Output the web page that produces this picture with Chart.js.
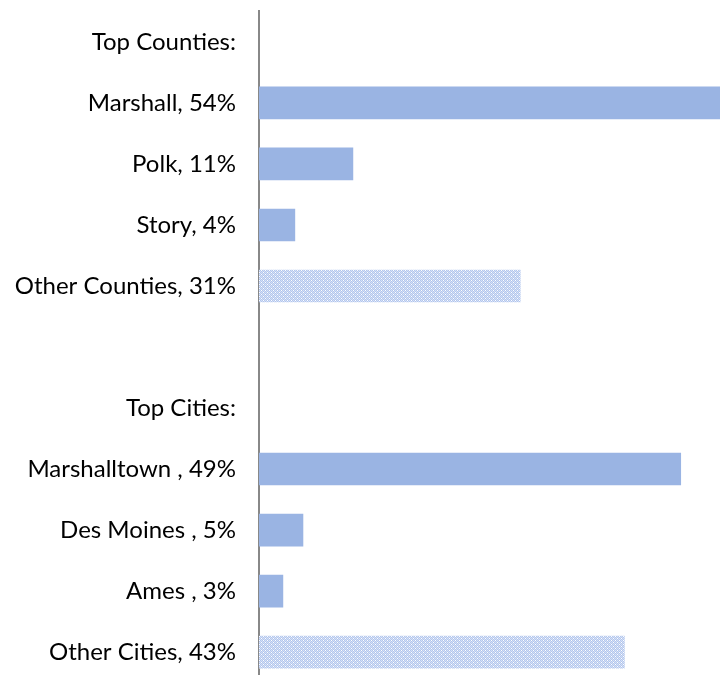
<!DOCTYPE html>
<html>
<head>
<meta charset="utf-8">
<script src="https://cdn.jsdelivr.net/npm/chart.js@4/dist/chart.umd.min.js"></script>
<style>
  html, body { margin: 0; padding: 0; background: #fff; overflow: hidden; }
  #wrap { width: 720px; height: 675px; position: relative; overflow: hidden; }
  #c { position: absolute; left: 0; top: -26px; }
</style>
</head>
<body>
<div id="wrap"><canvas id="c" width="720" height="746"></canvas></div>
<script>
const categories = ["Top Counties:", "Marshall, 54%", "Polk, 11%", "Story, 4%", "Other Counties, 31%", "", "Top Cities:", "Marshalltown , 49%", "Des Moines , 5%", "Ames , 3%", "Other Cities, 43%"];
const shares = [null, 54, 11, 4.2, 30.6, null, null, 49.4, 5.15, 2.8, 42.8];
const isOther = [false, false, false, false, true, false, false, false, false, false, true];

function makePattern() {
  const p = document.createElement('canvas');
  p.width = 4; p.height = 4;
  const g = p.getContext('2d');
  g.fillStyle = '#d6e1f6';
  g.fillRect(0, 0, 4, 4);
  g.fillStyle = '#b3c6ed';
  for (let y = 0; y < 4; y++) for (let x = 0; x < 4; x++) if ((x + y) % 2 === 0) g.fillRect(x, y, 1, 1);
  g.fillStyle = '#ffffff';
  g.fillRect(1, 0, 1, 1);
  g.fillRect(3, 2, 1, 1);
  return g.createPattern(p, 'repeat');
}

const ctx = document.getElementById('c').getContext('2d');
const pattern = makePattern();
const colors = isOther.map(o => o ? pattern : '#9ab4e3');

new Chart(ctx, {
  type: 'bar',
  data: {
    labels: categories,
    datasets: [{
      data: shares,
      backgroundColor: colors,
      borderWidth: 0,
      barThickness: 32
    }]
  },
  options: {
    indexAxis: 'y',
    responsive: false,
    animation: false,
    layout: { padding: { top: 0, bottom: 0, left: 0, right: 0 } },
    plugins: { legend: { display: false }, tooltip: { enabled: false } },
    scales: {
      x: { display: false, min: 0, max: 54 },
      y: {
        afterFit: (s) => { s.width = 259; },
        grid: { display: false, drawTicks: false },
        border: { display: true, color: '#888888', width: 2 },
        ticks: {
          color: '#000000',
          padding: 23,
          font: { family: 'Lato', size: 24 }
        }
      }
    }
  }
});
</script>
</body>
</html>
